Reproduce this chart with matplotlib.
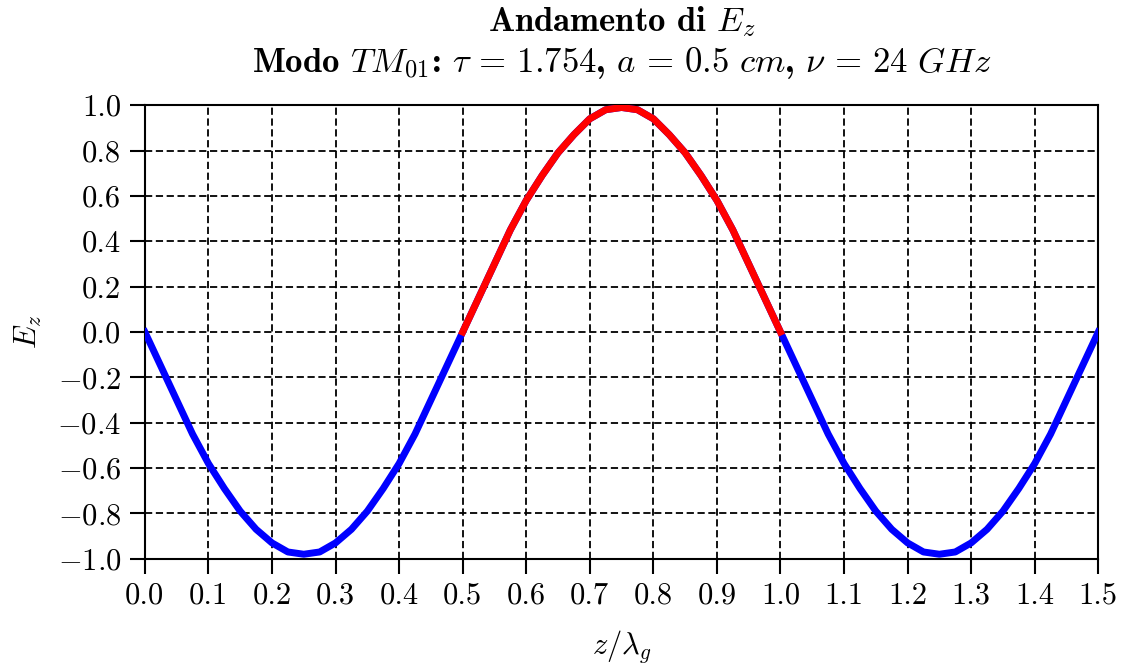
import numpy as np
import matplotlib
matplotlib.use('Agg')
from matplotlib import pyplot as plt

plt.rcParams['font.family'] = 'serif'
plt.rcParams['font.serif'] = ['cmr10']
plt.rcParams['mathtext.fontset'] = 'cm'
plt.rcParams['axes.formatter.use_mathtext'] = True

z = np.arange(61) * 0.025
Ez = [0.00, -0.15, -0.30, -0.45, -0.58, -0.69, -0.79, -0.87, -0.93, -0.97,
      -0.98, -0.97, -0.93, -0.87, -0.79, -0.69, -0.58, -0.45, -0.30, -0.15,
      0.00, 0.15, 0.30, 0.45, 0.58, 0.69, 0.79, 0.87, 0.94, 0.98,
      0.99, 0.98, 0.94, 0.87, 0.79, 0.69, 0.58, 0.45, 0.30, 0.15,
      0.00, -0.15, -0.30, -0.45, -0.58, -0.69, -0.79, -0.87, -0.93, -0.97,
      -0.98, -0.97, -0.93, -0.87, -0.79, -0.69, -0.58, -0.45, -0.30, -0.15,
      0.00]
Ez = np.array(Ez)

xticks = np.arange(16) * 0.1
yticks = np.arange(-5, 6) * 0.2

fig = plt.figure(figsize=(11.23, 6.70), dpi=100)
ax = fig.add_axes([0.129, 0.166, 0.849, 0.677])

red = (z >= 0.5 - 1e-9) & (z <= 1.0 + 1e-9)
ax.plot(z, Ez, color='blue', linewidth=5, zorder=3, solid_joinstyle='round')
ax.plot(z[red], Ez[red], color='red', linewidth=5, zorder=4, solid_joinstyle='round')

ax.set_xlim(0, 1.5)
ax.set_ylim(-1, 1)
ax.set_xticks(xticks)
ax.set_yticks(yticks)
ax.set_xticklabels(['%.1f' % t for t in xticks])
ax.set_yticklabels([('$-$' if t < -1e-9 else '') + '%.1f' % abs(t) for t in yticks])
ax.tick_params(direction='out', length=11, width=1.5, labelsize=22, pad=6)
for s in ax.spines.values():
    s.set_linewidth(1.5)
ax.grid(True, color='black', linestyle=(0, (4, 2)), linewidth=1.3)

ax.set_xlabel(r'$z/\lambda_g$', fontsize=22, labelpad=13)
ax.set_ylabel(r'$E_z$', fontsize=22, labelpad=10)
ax.set_title('Andamento di $E_z$\nModo $TM_{01}$: $\\tau \\,=\\, 1.754$, $a \\,=\\, 0.5\\ cm$, '
             '$\\nu \\,=\\, 24\\ GHz$',
             fontsize=25, fontfamily='cmb10', pad=24, linespacing=1.2)

fig.savefig('out.png', dpi=100)
